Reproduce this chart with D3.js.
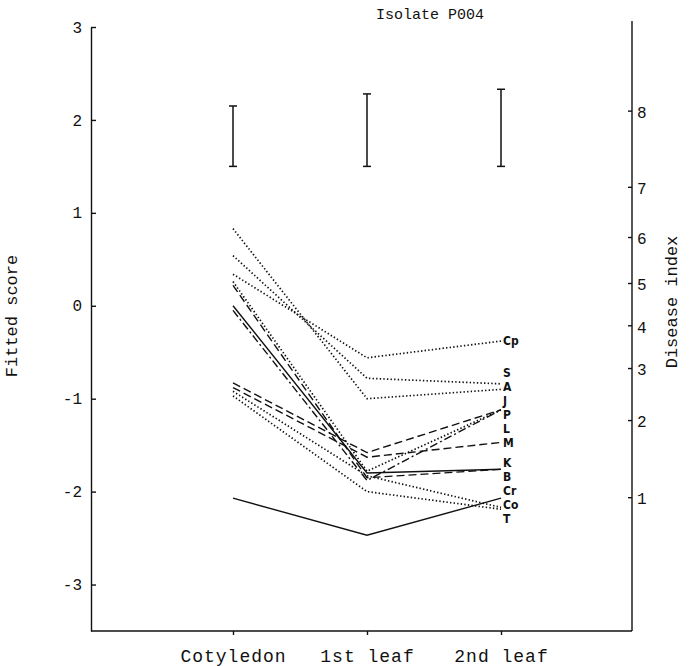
<!DOCTYPE html>
<html>
<head>
<meta charset="utf-8">
<script src="https://cdn.jsdelivr.net/npm/d3@7"></script>
<style>
  body { margin: 0; background: #fff; }
  svg { display: block; }
  text { fill: #111; }
</style>
</head>
<body>
<svg id="chart" width="697" height="666"></svg>
<script>
// Growth stages on the x axis
const stages = ["Cotyledon", "1st leaf", "2nd leaf"];

// Host lines, fitted scores at each stage
const hosts = ["Cp", "S", "A", "J", "P", "L", "M", "K", "B", "Cr", "Co", "T"];
const cotyledonScore = [0.34, 0.54, 0.83, -0.05, -0.83, 0.26, -0.88, 0.00, 0.22, -2.07, -0.92, -0.97];
const firstLeafScore = [-0.56, -0.78, -1.00, -1.88, -1.58, -1.78, -1.63, -1.80, -1.85, -2.47, -1.83, -2.00];
const secondLeafScore = [-0.38, -0.84, -0.90, -1.12, -1.12, -1.12, -1.47, -1.76, -1.76, -2.07, -2.17, -2.19];

// Least significant difference bars per stage
const lsdLow = [1.50, 1.50, 1.50];
const lsdHigh = [2.15, 2.28, 2.33];

// Left axis ticks (fitted score)
const scoreTicks = [-3, -2, -1, 0, 1, 2, 3];
// Right axis: disease index and the fitted score it corresponds to
const diseaseIndex = [1, 2, 3, 4, 5, 6, 7, 8];
const diseaseIndexScore = [-2.06, -1.23, -0.67, -0.21, 0.245, 0.74, 1.28, 2.10];

// Line pattern for each host line
const dashFor = {
  Cp: "1.4,2.2", S: "1.4,2.2", A: "1.4,2.2", L: "1.4,2.2", Co: "1.4,2.2", T: "1.4,2.2",
  J: "8,3,2,3", P: "8,4", M: "8,4", B: "8,4", K: null, Cr: null
};

const svg = d3.select("#chart");
const plotLeft = 91, plotRight = 632, plotTop = 27, plotBottom = 631;

const x = d3.scalePoint().domain(stages).range([233, 501]);
const y = d3.scaleLinear().domain([-3.5, 3]).range([plotBottom, plotTop]);

const mono = "'Liberation Mono', 'Courier New', monospace";

// Axes
const gLeft = svg.append("g").attr("transform", `translate(${plotLeft},0)`)
  .call(d3.axisLeft(y).tickValues(scoreTicks).tickSizeInner(-5).tickSizeOuter(0).tickPadding(9)
    .tickFormat(d => d < 0 ? "-" + Math.abs(d) : d));
gLeft.selectAll("text").style("font-family", mono).style("font-size", "16px");

const gRight = svg.append("g").attr("transform", `translate(${plotRight},0)`)
  .call(d3.axisRight(y).tickValues(diseaseIndexScore).tickSizeInner(-4).tickSizeOuter(0).tickPadding(5)
    .tickFormat((d, i) => diseaseIndex[i]));
gRight.selectAll("text").style("font-family", mono).style("font-size", "16px").attr("dy", "0.42em");
gRight.select(".domain").attr("d", `M0,21V${plotBottom}`);

const gBottom = svg.append("g").attr("transform", `translate(0,${plotBottom})`)
  .call(d3.axisBottom(x).tickSizeInner(4).tickSizeOuter(0).tickPadding(14));
gBottom.select(".domain").attr("d", `M${plotLeft},0H${plotRight}`);
gBottom.selectAll("text").style("font-family", mono).style("font-size", "18px")
  .attr("letter-spacing", "1px");

svg.selectAll(".domain, .tick line").attr("stroke", "#111").attr("stroke-width", 1.4);

// Titles
svg.append("text").attr("x", 430).attr("y", 19).attr("text-anchor", "middle")
  .style("font-family", mono).style("font-size", "15px").text("Isolate P004");
svg.append("text").attr("transform", "translate(17,316) rotate(-90)").attr("text-anchor", "middle")
  .style("font-family", mono).style("font-size", "17px").text("Fitted score");
svg.append("text").attr("transform", "translate(677,302) rotate(-90)").attr("text-anchor", "middle")
  .style("font-family", mono).style("font-size", "17px").text("Disease index");

// LSD bars
const bars = svg.append("g").attr("stroke", "#111").attr("stroke-width", 1.5);
stages.forEach((s, i) => {
  const cx = x(s);
  bars.append("line").attr("x1", cx).attr("x2", cx).attr("y1", y(lsdLow[i])).attr("y2", y(lsdHigh[i]));
  [lsdLow[i], lsdHigh[i]].forEach(v => bars.append("line")
    .attr("x1", cx - 4).attr("x2", cx + 4).attr("y1", y(v)).attr("y2", y(v)));
});

// Host lines
const series = hosts.map((h, i) => ({
  host: h,
  values: [cotyledonScore[i], firstLeafScore[i], secondLeafScore[i]]
}));
const line = d3.line().x((d, i) => x(stages[i])).y(d => y(d));
svg.append("g").selectAll("path").data(series).join("path")
  .attr("d", d => line(d.values))
  .attr("fill", "none").attr("stroke", "#111")
  .attr("stroke-width", d => dashFor[d.host] && dashFor[d.host].startsWith("1.4") ? 1.7 : 1.4)
  .attr("stroke-dasharray", d => dashFor[d.host]);

// End labels, spread apart so they do not overlap
const labels = series.map((d, i) => ({ host: d.host, order: i, y: y(d.values[2]) }))
  .sort((a, b) => a.y - b.y || a.order - b.order);
const gap = 14;
for (let it = 0; it < 400; it++) {
  for (let i = 1; i < labels.length; i++) {
    const d = labels[i].y - labels[i - 1].y;
    if (d < gap) {
      const s = (gap - d) / 2;
      labels[i - 1].y -= s;
      labels[i].y += s;
    }
  }
}
svg.append("g").selectAll("text").data(labels).join("text")
  .attr("x", 503).attr("y", d => d.y).attr("dy", "0.36em")
  .style("font-family", "'DejaVu Sans', sans-serif").style("font-stretch", "condensed")
  .style("font-size", "12px").style("font-weight", "bold")
  .text(d => d.host);
</script>
</body>
</html>
